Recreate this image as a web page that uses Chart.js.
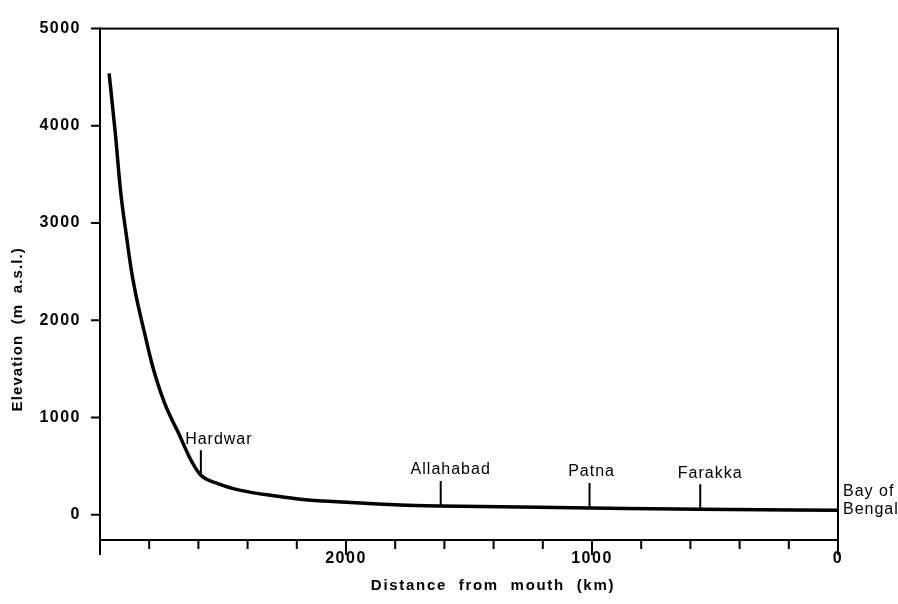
<!DOCTYPE html>
<html>
<head>
<meta charset="utf-8">
<script src="https://cdn.jsdelivr.net/npm/chart.js@4/dist/chart.umd.min.js"></script>
<style>
  html, body { margin: 0; padding: 0; background: #fff; }
  #wrap { width: 898px; height: 604px; }
</style>
</head>
<body>
<div id="wrap"><canvas id="profile"></canvas></div>
<script>
/* ── Ganga long profile ── */

// ── Data ────────────────────────────────────────────────────────────────────
const distanceKm = [2963, 2938, 2916, 2891, 2872, 2849, 2818, 2787, 2737, 2681, 2630, 2590, 2521, 2428, 2278, 2185, 1980, 1780, 1615, 1010, 560, 0];
const elevationM = [4540, 3930, 3320, 2840, 2505, 2200, 1860, 1535, 1145, 840, 560, 405, 320, 250, 190, 160, 125, 100, 90, 70, 55, 45];

const placeNames = ["Hardwar", "Allahabad", "Patna", "Farakka"];
const placeKm    = [2590, 1615, 1010, 560];
const placeElev  = [405, 90, 70, 55];
const mouthLabel = ["Bay of", "Bengal"];

const xTitle = "Distance  from  mouth  (km)";
const yTitle = "Elevation  (m  a.s.l.)";

const xTicks      = [3000, 2800, 2600, 2400, 2200, 2000, 1800, 1600, 1400, 1200, 1000, 800, 600, 400, 200, 0];
const xMajorTicks = [3000, 2000, 1000, 0];
const xLabelTicks = [2000, 1000, 0];
const yTicks      = [0, 1000, 2000, 3000, 4000, 5000];

const INK = "#000";
const FONT = "'Liberation Sans', Arial, sans-serif";
const LABEL_NUDGE = [18, 10, 2, 10];  // px, keeps "Hardwar" clear of the curve

// ── Frame, tick marks, titles and place markers ─────────────────────────────
const profileDecor = {
  id: "profileDecor",
  beforeDraw(chart) {
    chart.ctx.letterSpacing = "1.5px";
  },
  afterDraw(chart) {
    const { ctx, chartArea: a, scales: { x, y } } = chart;
    ctx.save();
    ctx.strokeStyle = INK;
    ctx.fillStyle = INK;
    ctx.lineWidth = 2;
    ctx.lineCap = "square";

    // box
    ctx.strokeRect(a.left, a.top, a.right - a.left, a.bottom - a.top);

    // y ticks (outward)
    ctx.beginPath();
    yTicks.forEach((v) => {
      const py = y.getPixelForValue(v);
      ctx.moveTo(a.left - 8, py);
      ctx.lineTo(a.left, py);
    });
    // x ticks (downward, majors longer)
    xTicks.forEach((v) => {
      const px = x.getPixelForValue(v);
      const len = xMajorTicks.includes(v) ? 14 : 8;
      ctx.moveTo(px, a.bottom);
      ctx.lineTo(px, a.bottom + len);
    });
    ctx.stroke();

    // axis titles
    ctx.font = `bold 15px ${FONT}`;
    ctx.textAlign = "center";
    ctx.textBaseline = "middle";
    ctx.letterSpacing = "1.7px";
    ctx.fillText(xTitle, (a.left + a.right) / 2 + 24, 586);
    ctx.save();
    ctx.translate(18, (a.top + a.bottom) / 2 + 45);
    ctx.rotate(-Math.PI / 2);
    ctx.letterSpacing = "1.1px";
    ctx.fillText(yTitle, 0, 0);
    ctx.restore();

    // place markers
    ctx.font = `16px ${FONT}`;
    ctx.letterSpacing = "1px";
    ctx.textBaseline = "bottom";
    ctx.beginPath();
    placeNames.forEach((name, i) => {
      const px = x.getPixelForValue(placeKm[i]);
      const py = y.getPixelForValue(placeElev[i]) - 2;
      ctx.moveTo(px, py);
      ctx.lineTo(px, py - 22);
      ctx.fillText(name, px + LABEL_NUDGE[i], py - 26);
    });
    ctx.stroke();

    // mouth label
    const mx = x.getPixelForValue(0);
    const my = y.getPixelForValue(elevationM[elevationM.length - 1]);
    ctx.textAlign = "left";
    ctx.textBaseline = "middle";
    mouthLabel.forEach((t, i) => ctx.fillText(t, mx + 5, my - 19 + i * 18));
    ctx.restore();
  },
};

// ── Chart ───────────────────────────────────────────────────────────────────
new Chart(document.getElementById("profile"), {
  type: "line",
  data: {
    datasets: [{
      data: distanceKm.map((d, i) => ({ x: d, y: elevationM[i] })),
      borderColor: INK,
      borderWidth: 3.5,
      pointRadius: 0,
      cubicInterpolationMode: "monotone",
      fill: false,
    }],
  },
  options: {
    responsive: true,
    maintainAspectRatio: false,
    animation: false,
    layout: { padding: { top: 20, right: 60, left: 0, bottom: 0 } },
    plugins: { legend: { display: false }, tooltip: { enabled: false } },
    scales: {
      x: {
        type: "linear",
        reverse: true,
        min: 0,
        max: 3000,
        afterBuildTicks: (s) => { s.ticks = xLabelTicks.map((v) => ({ value: v })); },
        afterFit: (s) => { s.height = 64; },
        grid: { display: false, drawTicks: false },
        border: { display: false },
        ticks: {
          color: INK, padding: 9, maxRotation: 0,
          font: { family: FONT, size: 16, weight: "bold" },
          callback: (v) => String(v),
        },
      },
      y: {
        min: -260,
        max: 5000,
        afterBuildTicks: (s) => { s.ticks = yTicks.map((v) => ({ value: v })); },
        afterFit: (s) => { s.width = 100; },
        grid: { display: false, drawTicks: false },
        border: { display: false },
        ticks: {
          color: INK, padding: 19,
          font: { family: FONT, size: 16, weight: "bold" },
          callback: (v) => String(v),
        },
      },
    },
  },
  plugins: [profileDecor],
});
</script>
</body>
</html>
